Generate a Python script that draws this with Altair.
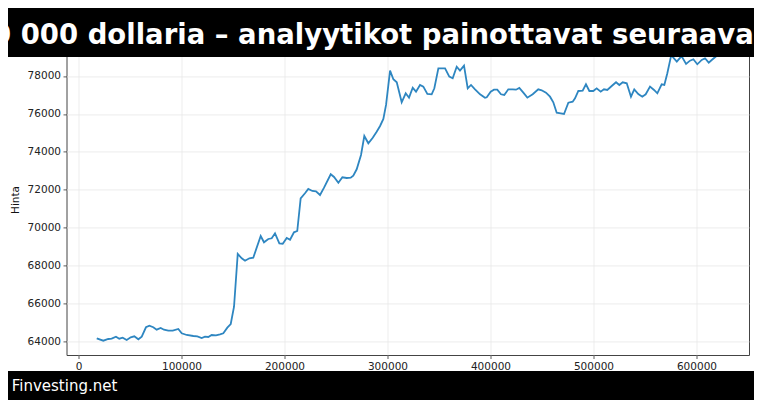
import altair as alt
import pandas as pd

# ---- data ----
x_vals = [17700, 24100, 28900, 32200, 36400, 39600, 42900, 46800, 50700, 54200,
          58100, 61400, 65500, 68800, 72600, 75900, 79800, 83000, 87200, 91500,
          96900, 100200, 105100, 111500, 115400, 119600, 122800, 126000, 129300, 133500,
          137400, 140600, 144500, 147800, 151000, 154600, 158500, 161700, 165900, 169700,
          176900, 180100, 184300, 187600, 190800, 195000, 198300, 202200, 205400, 209200,
          212400, 215700, 219900, 223100, 227000, 230600, 234500, 238400, 244900, 248100,
          252300, 256200, 260400, 264300, 266800, 270100, 274300, 277500, 281400, 285700,
          289500, 292800, 296000, 298600, 302500, 305700, 309000, 313800, 317700, 320900,
          324500, 327700, 331600, 334800, 338700, 342900, 345500, 349400, 355900, 360000,
          363300, 367200, 370400, 374300, 377900, 381100, 385000, 389900, 394700, 396400,
          400200, 403400, 406600, 410200, 413400, 417300, 421600, 424800, 428000, 431900,
          435800, 441000, 446400, 449700, 453900, 457800, 461000, 464300, 468200, 471400,
          475600, 479800, 482100, 485300, 489500, 492700, 496000, 499800, 503100, 507000,
          510200, 513400, 517700, 521900, 525100, 528400, 532300, 536400, 539600, 543500,
          547400, 550700, 554900, 558800, 562000, 566200, 568800, 571700, 575500, 580900,
          585500, 589900, 593700, 597000, 600800, 605100, 608300, 611900, 614800, 620900]

prices = [64169, 64042, 64132, 64148, 64253, 64148, 64200, 64079, 64221, 64274,
          64116, 64253, 64749, 64833, 64749, 64622, 64712, 64622, 64569, 64569,
          64659, 64432, 64343, 64290, 64274, 64185, 64253, 64237, 64343, 64327,
          64380, 64432, 64728, 64923, 65835, 68614, 68387, 68261, 68387, 68419,
          69563, 69231, 69405, 69442, 69705, 69178, 69157, 69458, 69368, 69758,
          69827, 71551, 71815, 72041, 71936, 71920, 71725, 72110, 72817, 72674,
          72374, 72658, 72621, 72637, 72743, 73080, 73834, 74836, 74451, 74746,
          75063, 75363, 75733, 76471, 78279, 77826, 77668, 76613, 77088, 76856,
          77383, 77172, 77525, 77436, 77051, 77035, 77351, 78406, 78406, 77963,
          77879, 78490, 78279, 78543, 77351, 77525, 77298, 77035, 76856, 76877,
          77172, 77277, 77277, 77035, 76998, 77298, 77298, 77277, 77367, 77119,
          76856, 77035, 77298, 77246, 77119, 76909, 76613, 76065, 76033, 75996,
          76592, 76645, 76824, 77209, 77225, 77562, 77209, 77209, 77351, 77172,
          77298, 77262, 77472, 77668, 77525, 77668, 77615, 76909, 77298, 77051,
          76909, 77035, 77436, 77262, 77088, 77562, 77525, 78142, 79100, 78760,
          79050, 78633, 78807, 78880, 78617, 78844, 78933, 78700, 78844, 79120]

x_ticks = [0, 100000, 200000, 300000, 400000, 500000, 600000]
y_ticks = [64000, 66000, 68000, 70000, 72000, 74000, 76000, 78000, 80000]

title_text = "0 000 dollaria \u2013 analyytikot painottavat seuraavan"
footer_text = "Finvesting.net"
y_title = "Hinta"

FONT = "DejaVu Sans"

df = pd.DataFrame({"x": x_vals, "price": prices})
one = pd.DataFrame({"k": [0]})

line = alt.Chart(df).mark_line(color="#2e86c1", strokeWidth=1.8).encode(
    x=alt.X("x:Q",
            scale=alt.Scale(domain=[-11650, 651000], nice=False, zero=False),
            axis=alt.Axis(values=x_ticks, format="d", title=None, grid=True,
                          gridColor="#e8e8e8", gridWidth=0.8, domain=False,
                          tickColor="#333333", tickSize=3.5, tickWidth=0.8,
                          labelFont=FONT, labelFontSize=10.5, labelColor="#222222",
                          labelPadding=2.5)),
    y=alt.Y("price:Q",
            scale=alt.Scale(domain=[63288, 79876], nice=False, zero=False),
            axis=alt.Axis(values=y_ticks, format="d", title=None, grid=True,
                          gridColor="#e8e8e8", gridWidth=0.8, domain=False,
                          tickColor="#333333", tickSize=3.5, tickWidth=0.8,
                          labelFont=FONT, labelFontSize=10.5, labelColor="#222222",
                          labelPadding=2.5)),
)

top_banner = alt.Chart(one).mark_rect(color="black").encode(
    x=alt.value(-70), x2=alt.value(700), y=alt.value(-42), y2=alt.value(16.6))

bottom_banner = alt.Chart(one).mark_rect(color="black").encode(
    x=alt.value(-70), x2=alt.value(700), y=alt.value(330.6), y2=alt.value(362))

title = alt.Chart(one).mark_text(
    text=title_text, font=FONT, fontSize=27.5, fontWeight="bold", color="white",
    align="left", baseline="alphabetic").encode(x=alt.value(-74.5), y=alt.value(3.1))

footer = alt.Chart(one).mark_text(
    text=footer_text, font=FONT, fontSize=15, color="white",
    align="left", baseline="alphabetic").encode(x=alt.value(-54.8), y=alt.value(350.3))

ytitle = alt.Chart(one).mark_text(
    text=y_title, font=FONT, fontSize=10.5, color="#111111", angle=270,
    align="center", baseline="middle").encode(x=alt.value(-50.5), y=alt.value(159.6))

chart = alt.layer(line, top_banner, bottom_banner, title, footer, ytitle).properties(
    width=682.5, height=314.6,
    autosize=alt.AutoSizeParams(type="none"),
    padding={"left": 58.5, "top": 32.4, "right": 5, "bottom": 45},
    background="white",
).configure_view(stroke="#444444", strokeWidth=1)

chart.save("out.html", embed_options={"renderer": "svg", "actions": False})
